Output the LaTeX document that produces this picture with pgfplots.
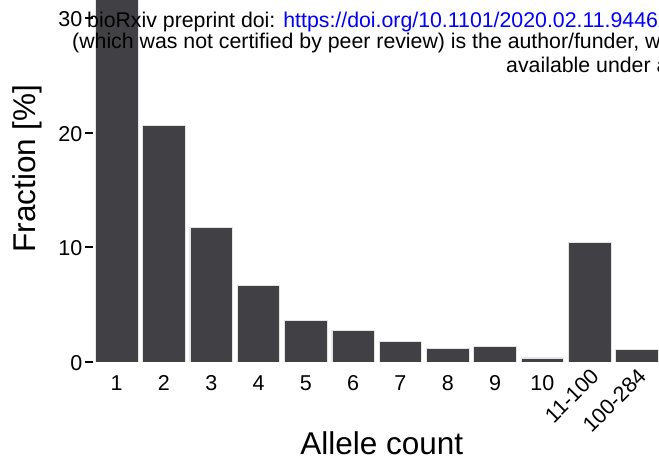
\documentclass[border=0pt]{standalone}
\usepackage{fontspec}
\setmainfont{Liberation Sans}
\usepackage{pgfplots}
\pgfplotsset{compat=1.18}
\definecolor{barfill}{RGB}{65,65,69}
\definecolor{baredge}{RGB}{228,228,228}
\definecolor{urlblue}{RGB}{0,0,255}
\begin{document}
\begin{tikzpicture}[x=1bp,y=1bp]
\useasboundingbox (0,0) rectangle (659,464);
\clip (0,0) rectangle (659,464);
\begin{scope}[overlay]
\begin{axis}[
  at={(93bp,102bp)}, anchor=south west,
  x=47.3bp, y=11.46bp,
  xmin=-0.5, xmax=11.6, ymin=0, ymax=32,
  axis lines=left,
  axis line style={draw=none},
  clip=true,
  tick align=outside,
  major tick length=8bp,
  ytick={0,10,20,30},
  ytick style={line width=2bp, black},
  xtick style={draw=none},
  xtick={0,1,2,3,4,5,6,7,8,9},
  xticklabels={1,2,3,4,5,6,7,8,9,10},
  xticklabel style={anchor=north, inner sep=0pt, yshift=-5.3bp},
  extra x ticks={10,11},
  extra x tick labels={11-100,100-284},
  extra x tick style={grid=none, major tick length=0pt,
    tick style={draw=none},
    xticklabel style={rotate=45, anchor=north east, inner sep=0pt, yshift=0.3bp}},
  /pgf/number format/assume math mode=true,
  tick label style={font=\fontsize{21.5bp}{25bp}\selectfont},
  yticklabel style={anchor=east, inner sep=0pt, xshift=-2.5bp, yshift=-1bp},
  xlabel={Allele count},
  xlabel style={at={(axis cs:5.607,-7.11)}, anchor=center, font=\fontsize{31.5bp}{36bp}\selectfont},
  ylabel={Fraction [\%]},
  ylabel style={at={(axis cs:-1.89,16.88)}, anchor=center, font=\fontsize{31.5bp}{36bp}\selectfont},
]
\addplot[ybar, bar width=0.9, fill=barfill, draw=baredge, line width=0.7bp] coordinates {
  (0,38.4) (1,20.66) (2,11.74) (3,6.71) (4,3.63) (5,2.73)
  (6,1.77) (7,1.22) (8,1.34) (9,0.35) (10,10.4) (11,1.07)
};
\end{axis}
\node[anchor=base west, inner sep=0pt, font=\fontsize{21.3bp}{25bp}\selectfont] at (87,436)
  {bioRxiv preprint doi: \textcolor{urlblue}{https://doi.org/10.1101/2020.02.11.944629}};
\node[anchor=base west, inner sep=0pt, font=\fontsize{21.3bp}{25bp}\selectfont] at (72,415)
  {(which was not certified by peer review) is the author/funder, who has granted};
\node[anchor=base west, inner sep=0pt, font=\fontsize{21.3bp}{25bp}\selectfont] at (506,391)
  {available under aCC-BY-NC-ND 4.0};
\end{scope}
\end{tikzpicture}
\end{document}
